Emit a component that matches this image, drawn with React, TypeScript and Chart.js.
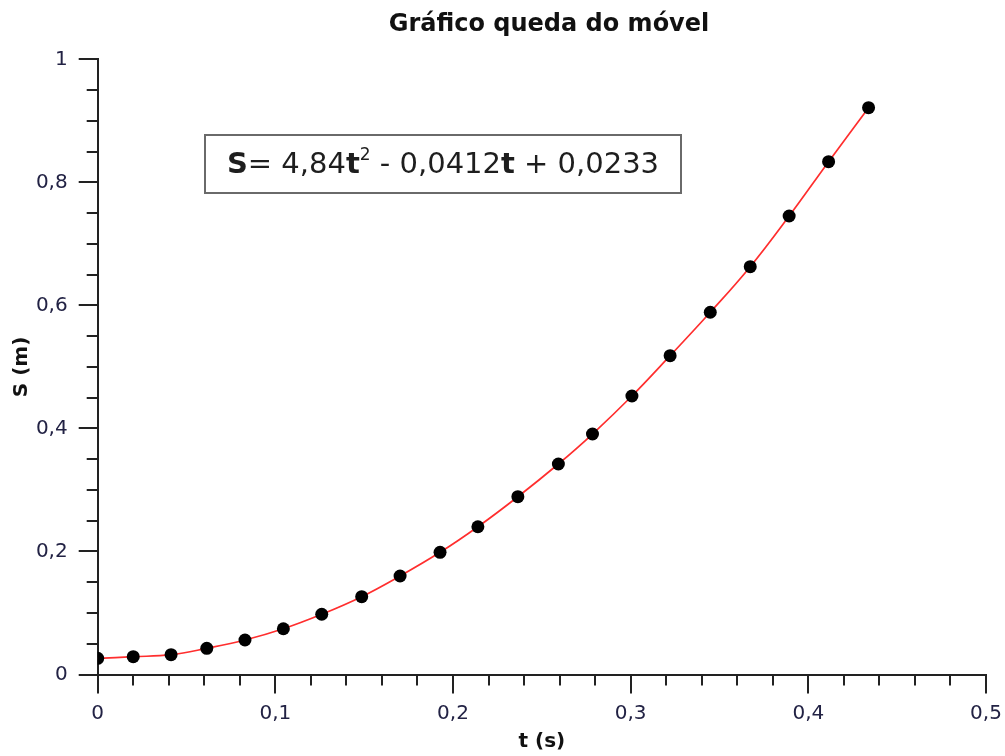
import React, { useEffect, useRef } from "react";
import Chart from "chart.js/auto";

const chartTitle = "Gráfico queda do móvel";
const xAxisTitle = "t (s)";
const yAxisTitle = "S (m)";

const timeValues = [
  0.0, 0.02, 0.0413, 0.0614, 0.0829, 0.1045, 0.1261, 0.1486, 0.1702, 0.1927, 0.214,
  0.2365, 0.2593, 0.2785, 0.3007, 0.3222, 0.3448, 0.3673, 0.3892, 0.4114, 0.4339,
];
const positionValues = [
  0.0263, 0.0289, 0.0322, 0.0426, 0.0561, 0.0744, 0.0979, 0.1265, 0.1601, 0.1986, 0.2402,
  0.289, 0.3422, 0.3909, 0.4527, 0.5182, 0.5888, 0.6629, 0.7453, 0.8336, 0.9213,
];

const xMajorTicks = [0, 0.1, 0.2, 0.3, 0.4, 0.5];
const yMajorTicks = [0, 0.2, 0.4, 0.6, 0.8, 1];
const xMinorStep = 0.02;
const yMinorStep = 0.05;

const equationParts = [
  { text: "S", bold: true, sup: false },
  { text: "= 4,84", bold: false, sup: false },
  { text: "t", bold: true, sup: false },
  { text: "2", bold: false, sup: true },
  { text: " - 0,0412", bold: false, sup: false },
  { text: "t", bold: true, sup: false },
  { text: " + 0,0233", bold: false, sup: false },
];

const FONT = "'DejaVu Sans', Verdana, sans-serif";
const AXIS_COLOR = "#222222";

function fmt(v: number) {
  const r = Math.round(v * 10) / 10;
  return String(r).replace(".", ",");
}

export default function App() {
  const canvasRef = useRef<HTMLCanvasElement | null>(null);

  useEffect(() => {
    if (!canvasRef.current) return;
    const points = timeValues.map((t, i) => ({ x: t, y: positionValues[i] }));

    const decorPlugin = {
      id: "decor",
      afterDraw(chart: any) {
        const ctx = chart.ctx as CanvasRenderingContext2D;
        const xs = chart.scales.x;
        const ys = chart.scales.y;
        const area = chart.chartArea;
        ctx.save();
        ctx.strokeStyle = AXIS_COLOR;
        ctx.lineWidth = 2;
        const xMin = xMajorTicks[0];
        const xMax = xMajorTicks[xMajorTicks.length - 1];
        const nX = Math.round((xMax - xMin) / xMinorStep);
        for (let i = 0; i <= nX; i++) {
          const v = xMin + i * xMinorStep;
          const px = Math.round(xs.getPixelForValue(v));
          const len = i % 5 === 0 ? 19 : 11;
          ctx.beginPath();
          ctx.moveTo(px, area.bottom);
          ctx.lineTo(px, area.bottom + len);
          ctx.stroke();
        }
        const yMin = yMajorTicks[0];
        const yMax = yMajorTicks[yMajorTicks.length - 1];
        const nY = Math.round((yMax - yMin) / yMinorStep);
        for (let i = 0; i <= nY; i++) {
          const v = yMin + i * yMinorStep;
          const py = Math.round(ys.getPixelForValue(v));
          const len = i % 4 === 0 ? 19 : 11;
          ctx.beginPath();
          ctx.moveTo(area.left, py);
          ctx.lineTo(area.left - len, py);
          ctx.stroke();
        }
        ctx.fillStyle = "#111111";
        ctx.font = `bold 24px ${FONT}`;
        ctx.textAlign = "center";
        ctx.textBaseline = "middle";
        ctx.fillText(chartTitle, 549, 25);

        const bx = 205, by = 135, bw = 476, bh = 58;
        ctx.fillStyle = "#ffffff";
        ctx.fillRect(bx, by, bw, bh);
        ctx.strokeStyle = "#6a6a6a";
        ctx.lineWidth = 2;
        ctx.strokeRect(bx, by, bw, bh);
        const mainSize = 29;
        const supSize = 17;
        const fontFor = (p: any) =>
          `${p.bold ? "bold " : ""}${p.sup ? supSize : mainSize}px ${FONT}`;
        let total = 0;
        const widths = equationParts.map((p) => {
          ctx.font = fontFor(p);
          const w = ctx.measureText(p.text).width;
          total += w;
          return w;
        });
        let cx = bx + bw / 2 - total / 2;
        const cy = by + bh / 2 + 1;
        ctx.textAlign = "left";
        ctx.textBaseline = "middle";
        ctx.fillStyle = "#1e1e1e";
        equationParts.forEach((p, i) => {
          ctx.font = fontFor(p);
          ctx.fillText(p.text, cx, p.sup ? cy - 9 : cy);
          cx += widths[i];
        });
        ctx.restore();
      },
    };

    const chart = new Chart(canvasRef.current, {
      type: "scatter",
      data: {
        datasets: [
          {
            type: "line",
            data: points,
            borderColor: "#ff2e2e",
            borderWidth: 1.7,
            pointRadius: 0,
            tension: 0.4,
            fill: false,
            order: 2,
          } as any,
          {
            data: points,
            pointRadius: 6.5,
            pointBackgroundColor: "#000000",
            pointBorderWidth: 0,
            order: 1,
          },
        ],
      },
      options: {
        responsive: false,
        animation: false,
        layout: { padding: { top: 59.3, right: 19, left: 0, bottom: 0 } },
        plugins: {
          legend: { display: false },
          tooltip: { enabled: false },
          title: { display: false },
        },
        scales: {
          x: {
            type: "linear",
            min: 0,
            max: 0.5,
            grid: { display: false, drawTicks: false, tickLength: 0 },
            border: { display: true, color: AXIS_COLOR, width: 2 },
            ticks: {
              stepSize: 0.1,
              padding: 27,
              color: "#222244",
              font: { family: FONT, size: 20 },
              callback: (v: any) => fmt(Number(v)),
              maxRotation: 0,
            },
            title: {
              display: true,
              text: xAxisTitle,
              color: "#111111",
              font: { family: FONT, size: 20, weight: "bold" },
              padding: { top: 0, bottom: 2 },
            },
            afterFit: (scale: any) => {
              scale.height = 81.5;
              scale.paddingLeft = 0;
              scale.paddingRight = 0;
            },
          },
          y: {
            type: "linear",
            min: 0,
            max: 1,
            grid: { display: false, drawTicks: false, tickLength: 0 },
            border: { display: true, color: AXIS_COLOR, width: 2 },
            ticks: {
              stepSize: 0.2,
              padding: 30,
              color: "#222244",
              font: { family: FONT, size: 20 },
              callback: (v: any) => fmt(Number(v)),
            },
            title: {
              display: true,
              text: yAxisTitle,
              color: "#111111",
              font: { family: FONT, size: 20, weight: "bold" },
              padding: { top: 10, bottom: 0 },
            },
            afterFit: (scale: any) => {
              scale.width = 97.7;
              scale.paddingTop = 0;
              scale.paddingBottom = 0;
            },
          },
        },
      } as any,
      plugins: [decorPlugin],
    });
    return () => chart.destroy();
  }, []);

  return (
    <div style={{ position: "fixed", left: 0, top: 0, width: 1005, height: 756, background: "#fff" }}>
      <canvas ref={canvasRef} width={1005} height={756} style={{ width: 1005, height: 756 }} />
    </div>
  );
}
